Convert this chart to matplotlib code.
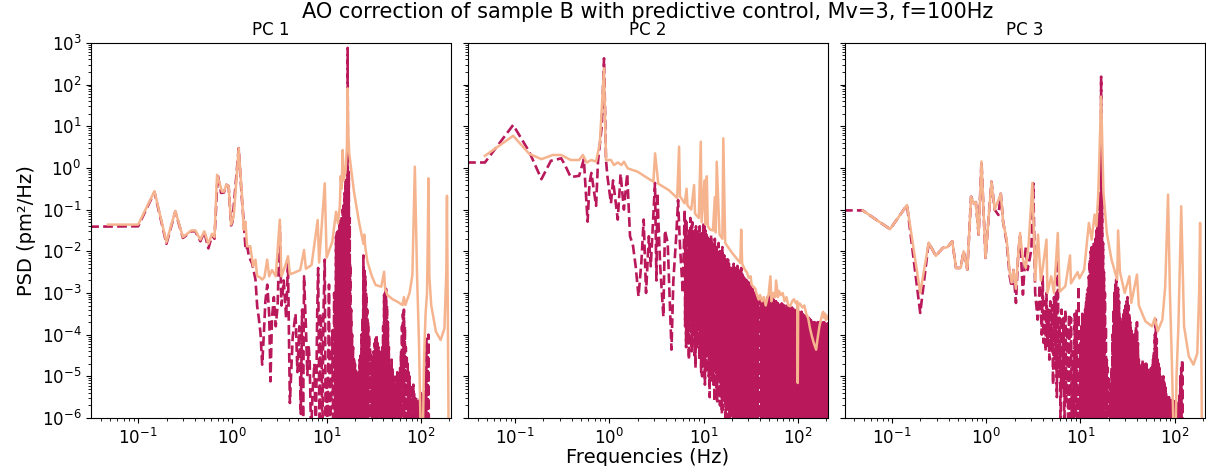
import numpy as np
import matplotlib.pyplot as plt

# values: (log10 frequency [Hz], log10 PSD [pm^2/Hz])
# dashed = open loop / reference, solid = predictive control

pc1_dashed = [
    (-1.52, -1.41), (-1.0, -1.40), (-0.827, -0.58), (-0.70, -1.82), (-0.606, -1.05), (-0.525, -1.68),
    (-0.436, -1.52), (-0.394, -1.52), (-0.34, -1.76), (-0.298, -1.54), (-0.255, -1.93), (-0.216, -1.62),
    (-0.19, -1.70), (-0.156, -0.165), (-0.12, -0.60), (-0.09, -0.59), (-0.064, -0.405), (-0.04, -0.44),
    (-0.014, -1.38), (0.0, -1.30), (0.067, 0.475), (0.10, -0.72), (0.12, -1.30), (0.14, -1.97),
    (0.16, -1.90), (0.174, -2.12), (0.21, -2.3), (0.245, -2.68), (0.263, -3.32), (0.28, -3.6),
    (0.298, -3.96), (0.316, -4.72), (0.33, -4.15), (0.35, -3.2), (0.37, -2.8), (0.39, -3.5),
    (0.404, -5.12), (0.42, -3.6), (0.44, -3.1), (0.46, -3.8), (0.48, -3.3), (0.503, -1.4),
    (0.52, -3.3), (0.545, -2.7), (0.57, -3.6), (0.59, -2.3), (0.61, -5.64), (0.64, -4.05),
    (0.67, -3.5), (0.69, -4.9), (0.71, -3.8), (0.725, -5.9), (0.74, -3.4), (0.75, -6.5),
    (0.76, -2.6), (0.78, -3.8), (0.795, -4.97), (0.81, -4.3), (0.82, -4.6), (0.835, -6.5),
    (0.85, -5.4), (0.87, -4.7), (0.885, -6.5), (0.90, -3.45), (0.91, -2.4), (0.925, -6.5),
    (0.935, -3.5), (0.945, -4.0), (0.955, -6.5), (0.965, -3.6), (0.98, -2.2), (0.99, -6.5),
    (1.0, -5.0), (1.01, -6.5), (1.025, -2.8), (1.035, -6.5), (1.05, -5.4), (1.06, -3.9),
    (1.07, -6.5), (1.08, -3.0), (1.09, -6.5), (1.10, -1.65), (1.105, -6.5), (1.11, -1.55),
    (1.115, -6.5), (1.12, -1.5), (1.125, -6.5), (1.13, -1.45), (1.135, -6.5), (1.14, -1.35),
    (1.145, -6.5), (1.15, -1.25), (1.155, -6.5), (1.16, -1.15), (1.165, -6.5), (1.17, -1.0),
    (1.175, -6.5), (1.18, -0.9), (1.185, -6.5), (1.19, -0.6), (1.195, -6.5), (1.20, -0.3),
    (1.205, -6.5), (1.212, -0.05), (1.217, -6.5), (1.223, 2.88), (1.23, -6.5), (1.235, -0.1),
    (1.24, -6.5), (1.245, -1.2), (1.248, -6.5),
    (1.25, -2.3), (1.255, -6.5), (1.26, -3.4), (1.265, -6.5), (1.27, -4.0), (1.275, -6.5),
    (1.28, -4.3), (1.285, -6.5), (1.29, -4.6), (1.295, -6.5), (1.30, -4.7), (1.305, -6.5),
    (1.31, -4.8), (1.315, -6.5), (1.32, -4.9), (1.325, -6.5), (1.33, -5.0), (1.335, -6.5),
    (1.34, -4.9), (1.345, -6.5), (1.35, -4.6), (1.355, -6.5), (1.36, -4.5), (1.365, -6.5),
    (1.37, -4.0), (1.375, -6.5), (1.38, -3.6), (1.385, -6.5), (1.39, -2.1), (1.395, -6.5),
    (1.40, -2.4), (1.405, -6.5), (1.41, -2.6), (1.415, -6.5), (1.42, -3.0), (1.425, -6.5),
    (1.43, -3.4), (1.435, -6.5), (1.44, -3.7), (1.445, -6.5), (1.45, -4.0), (1.455, -6.5),
    (1.46, -4.3), (1.465, -6.5), (1.47, -4.5), (1.475, -6.5), (1.48, -4.6), (1.485, -6.5),
    (1.49, -4.6), (1.495, -6.5), (1.50, -4.4), (1.505, -6.5), (1.51, -4.2), (1.515, -6.5),
    (1.52, -4.1), (1.525, -6.5), (1.53, -4.0), (1.535, -6.5), (1.54, -4.2), (1.545, -6.5),
    (1.55, -4.3), (1.555, -6.5), (1.56, -4.4), (1.565, -6.5), (1.57, -4.5), (1.575, -6.5),
    (1.58, -4.4), (1.585, -6.5), (1.59, -4.3), (1.595, -6.5), (1.60, -3.8), (1.605, -6.5),
    (1.61, -3.05), (1.615, -6.5), (1.62, -3.0), (1.625, -6.5), (1.63, -2.9), (1.635, -6.5),
    (1.64, -3.3), (1.645, -6.5), (1.65, -3.7), (1.655, -6.5), (1.66, -4.3), (1.665, -6.5),
    (1.67, -4.9), (1.675, -6.5), (1.68, -4.7), (1.685, -6.5), (1.69, -4.6), (1.695, -6.5),
    (1.70, -4.8), (1.705, -6.5), (1.71, -5.0), (1.715, -6.5), (1.72, -5.1), (1.725, -6.5),
    (1.73, -5.2), (1.735, -6.5), (1.74, -5.0), (1.745, -6.5), (1.75, -4.9), (1.755, -6.5),
    (1.76, -5.0), (1.765, -6.5), (1.77, -5.1), (1.775, -6.5), (1.78, -4.8), (1.785, -6.5),
    (1.79, -4.4), (1.795, -6.5), (1.80, -3.8), (1.805, -6.5), (1.81, -3.5), (1.815, -6.5),
    (1.82, -3.4), (1.825, -6.5), (1.83, -3.8), (1.835, -6.5), (1.84, -4.3), (1.845, -6.5),
    (1.85, -4.5), (1.855, -6.5), (1.86, -4.7), (1.865, -6.5), (1.87, -4.9), (1.875, -6.5),
    (1.88, -5.0), (1.885, -6.5), (1.89, -5.2), (1.895, -6.5), (1.90, -5.3), (1.905, -6.5),
    (1.91, -5.2), (1.915, -6.5), (1.92, -5.2), (1.925, -6.5), (1.93, -5.4), (1.935, -6.5),
    (1.94, -5.5), (1.945, -6.5), (1.95, -5.5), (1.955, -6.5), (1.96, -5.6), (1.965, -6.5),
    (1.97, -5.7), (1.975, -6.5), (1.98, -5.7), (1.985, -6.5), (1.99, -5.5), (1.995, -6.5),
    (2.00, -5.4), (2.005, -6.5), (2.01, -5.5), (2.015, -6.5), (2.02, -5.6), (2.025, -6.5),
    (2.03, -5.4), (2.035, -6.5), (2.04, -5.3), (2.045, -6.5), (2.05, -4.8), (2.055, -6.5),
    (2.06, -4.1), (2.065, -6.5), (2.07, -4.3), (2.075, -6.5), (2.08, -4.0), (2.085, -6.5),
    (2.09, -6.5),
]

pc1_solid = [
    (-1.32, -1.36), (-1.0, -1.36), (-0.827, -0.56), (-0.70, -1.78), (-0.606, -1.03), (-0.525, -1.66),
    (-0.436, -1.50), (-0.394, -1.50), (-0.34, -1.72), (-0.298, -1.52), (-0.255, -1.82), (-0.216, -1.58),
    (-0.19, -1.66), (-0.163, -0.165), (-0.11, -0.57), (-0.09, -0.57), (-0.064, -0.40), (-0.04, -0.44),
    (-0.014, -1.36), (0.014, -1.16), (0.067, 0.475), (0.103, -0.72), (0.12, -1.48), (0.138, -1.29),
    (0.156, -1.88), (0.19, -1.88), (0.22, -2.36), (0.245, -2.2), (0.263, -2.6), (0.29, -2.62),
    (0.316, -2.68), (0.34, -2.62), (0.369, -2.20), (0.39, -2.6), (0.42, -2.45), (0.46, -2.6),
    (0.503, -1.24), (0.52, -2.6), (0.56, -2.35), (0.59, -2.12), (0.61, -2.55), (0.65, -2.52),
    (0.69, -2.48), (0.72, -2.45), (0.76, -1.97), (0.78, -2.42), (0.84, -2.33), (0.905, -1.25),
    (0.92, -2.27), (0.98, -0.37), (1.0, -2.15), (1.06, -1.77), (1.10, -1.05), (1.12, -1.33),
    (1.14, -0.9), (1.149, -0.2), (1.16, -0.5), (1.17, 0.43), (1.18, -0.3), (1.20, -0.1),
    (1.215, 0.5), (1.223, 1.91), (1.23, 0.8), (1.24, 0.35), (1.255, 0.07), (1.29, -0.57),
    (1.343, -1.29), (1.39, -1.82), (1.40, -1.6), (1.41, -1.9), (1.433, -2.25), (1.48, -2.6),
    (1.52, -2.81), (1.58, -2.85), (1.61, -2.49), (1.62, -2.9), (1.645, -3.05), (1.70, -3.15),
    (1.75, -3.21), (1.805, -3.29), (1.82, -3.1), (1.835, -3.29), (1.88, -3.0), (1.91, -2.57),
    (1.936, 0.03), (1.96, -2.6), (1.98, -4.2), (1.99, -5.4), (2.0, -6.5), (2.02, -6.5),
    (2.035, -4.5), (2.05, -3.5), (2.065, -3.0), (2.075, -1.5), (2.08, -0.25), (2.09, -2.6),
    (2.11, -3.3), (2.16, -3.93), (2.21, -4.13), (2.25, -3.85), (2.27, -2.5), (2.277, -0.67),
    (2.285, -3.2), (2.295, -6.5), (2.32, -6.5),
]

pc2_dashed = [
    (-1.52, 0.13), (-1.32, 0.13), (-1.02, 1.03), (-0.85, 0.39), (-0.72, -0.27), (-0.62, 0.17),
    (-0.51, 0.23), (-0.47, 0.07), (-0.41, -0.22), (-0.32, -0.19), (-0.27, 0.21), (-0.23, -1.29),
    (-0.21, -0.37), (-0.19, -0.12), (-0.14, -0.91), (-0.12, 0.15), (-0.08, 1.0), (-0.056, 2.63),
    (-0.035, 0.19), (-0.02, -0.2), (0.018, -0.85), (0.04, -0.3), (0.09, -1.24), (0.12, -0.14),
    (0.155, -1.0), (0.19, -0.14), (0.22, -1.64), (0.25, -1.84), (0.28, -2.36), (0.31, -3.08),
    (0.34, -2.28), (0.365, -1.24), (0.39, -3.0), (0.42, -1.64), (0.44, -2.36), (0.485, -0.36),
    (0.50, -2.7), (0.51, -0.6), (0.54, -2.35), (0.574, -3.57), (0.59, -1.5), (0.62, -1.8),
    (0.66, -4.36), (0.68, -2.7), (0.71, -1.65), (0.73, -0.77), (0.75, -1.85), (0.78, -3.0),
    (0.80, -1.0), (0.805, -3.8), (0.81, -1.2), (0.815, -4.3), (0.82, -1.3), (0.825, -3.6),
    (0.83, -1.6), (0.835, -4.2), (0.84, -2.0), (0.845, -4.6), (0.85, -1.5), (0.855, -3.9),
    (0.86, -1.2), (0.865, -3.6), (0.87, -1.4), (0.875, -4.4), (0.88, -1.3), (0.885, -4.0),
    (0.89, -1.5), (0.895, -3.7), (0.90, -1.6), (0.905, -4.5), (0.91, -1.5), (0.915, -4.8),
    (0.92, -1.4), (0.925, -4.1), (0.93, -1.6), (0.935, -4.3), (0.94, -1.5), (0.945, -3.8),
    (0.95, -1.7), (0.955, -4.6), (0.96, -1.4), (0.965, -4.4), (0.97, -1.5), (0.975, -4.9),
    (0.98, -1.7), (0.985, -5.0), (0.99, -1.6), (0.995, -4.2), (1.00, -1.3), (1.005, -4.6),
    (1.01, -1.4), (1.015, -5.2), (1.02, -1.5), (1.025, -4.9), (1.03, -1.6), (1.035, -4.5),
    (1.04, -1.6), (1.045, -4.4), (1.05, -1.7), (1.055, -5.0), (1.06, -1.7), (1.065, -5.5),
    (1.07, -1.8), (1.075, -4.8), (1.08, -1.6), (1.085, -5.1), (1.09, -1.8), (1.095, -4.8),
    (1.10, -1.8), (1.105, -5.2), (1.11, -1.9), (1.115, -5.6), (1.12, -1.7), (1.125, -4.7),
    (1.13, -1.9), (1.135, -5.3), (1.14, -1.9), (1.145, -5.6), (1.15, -2.0), (1.155, -5.0),
    (1.16, -1.8), (1.165, -5.1), (1.17, -2.0), (1.175, -5.7), (1.18, -2.0), (1.185, -5.4),
    (1.19, -2.1), (1.195, -5.9), (1.20, -1.9), (1.205, -5.8), (1.21, -2.1), (1.215, -5.5),
    (1.22, -2.1), (1.225, -5.3), (1.23, -2.2), (1.235, -6.1), (1.24, -2.3), (1.245, -6.0),
    (1.25, -2.2), (1.255, -5.8), (1.26, -2.2), (1.265, -5.7), (1.27, -2.3), (1.275, -6.3),
    (1.28, -2.4), (1.285, -6.5), (1.29, -2.4), (1.295, -5.9), (1.30, -2.45), (1.305, -6.5),
    (1.31, -2.4), (1.315, -6.2), (1.32, -2.3), (1.325, -6.5), (1.33, -2.45), (1.335, -6.5),
    (1.34, -2.4), (1.345, -6.2), (1.35, -2.5), (1.355, -6.5), (1.36, -2.35), (1.365, -6.5),
    (1.37, -2.45), (1.375, -6.5), (1.38, -2.5), (1.385, -6.5), (1.39, -2.55), (1.395, -6.5),
    (1.40, -2.4), (1.405, -6.5), (1.41, -2.55), (1.415, -6.5), (1.42, -2.6), (1.425, -6.5),
    (1.43, -2.65), (1.435, -6.5), (1.44, -2.6), (1.445, -6.5), (1.45, -2.7), (1.455, -6.5),
    (1.46, -2.7), (1.465, -6.5), (1.47, -2.75), (1.475, -6.5), (1.48, -2.75), (1.485, -6.5),
    (1.49, -2.8), (1.495, -6.5), (1.50, -2.85), (1.505, -6.5), (1.51, -2.9), (1.515, -6.5),
    (1.52, -2.9), (1.525, -6.5), (1.53, -2.95), (1.535, -6.5), (1.54, -2.95), (1.545, -6.5),
    (1.55, -3.0), (1.555, -6.5), (1.56, -3.05), (1.565, -6.5), (1.57, -3.1), (1.575, -6.5),
    (1.58, -3.1), (1.585, -6.5), (1.59, -3.15), (1.595, -6.5), (1.60, -3.15), (1.605, -6.5),
    (1.61, -3.2), (1.615, -6.5), (1.62, -3.2), (1.625, -6.5), (1.63, -3.15), (1.635, -6.5),
    (1.64, -3.15), (1.645, -6.5), (1.65, -3.2), (1.655, -6.5), (1.66, -3.2), (1.665, -6.5),
    (1.67, -3.15), (1.675, -6.5), (1.68, -3.1), (1.685, -6.5), (1.69, -3.1), (1.695, -6.5),
    (1.70, -3.1), (1.705, -6.5), (1.71, -3.05), (1.715, -6.5), (1.72, -3.05), (1.725, -6.5),
    (1.73, -3.1), (1.735, -6.5), (1.74, -3.15), (1.745, -6.5), (1.75, -3.2), (1.755, -6.5),
    (1.76, -3.2), (1.765, -6.5), (1.77, -3.2), (1.775, -6.5), (1.78, -3.2), (1.785, -6.5),
    (1.79, -3.25), (1.795, -6.5), (1.80, -3.25), (1.805, -6.5), (1.81, -3.3), (1.815, -6.5),
    (1.82, -3.3), (1.825, -6.5), (1.83, -3.25), (1.835, -6.5), (1.84, -3.25), (1.845, -6.5),
    (1.85, -3.3), (1.855, -6.5), (1.86, -3.3), (1.865, -6.5), (1.87, -3.35), (1.875, -6.5),
    (1.88, -3.35), (1.885, -6.5), (1.89, -3.3), (1.895, -6.5), (1.90, -3.3), (1.905, -6.5),
    (1.91, -3.35), (1.915, -6.5), (1.92, -3.4), (1.925, -6.5), (1.93, -3.4), (1.935, -6.5),
    (1.94, -3.35), (1.945, -6.5), (1.95, -3.4), (1.955, -6.5), (1.96, -3.4), (1.965, -6.5),
    (1.97, -3.45), (1.975, -6.5), (1.98, -3.45), (1.985, -6.5), (1.99, -3.4), (1.995, -6.5),
    (2.00, -3.4), (2.005, -6.5), (2.01, -3.45), (2.015, -6.5), (2.02, -3.5), (2.025, -6.5),
    (2.03, -3.5), (2.035, -6.5), (2.04, -3.45), (2.045, -6.5), (2.05, -3.5), (2.055, -6.5),
    (2.06, -3.5), (2.065, -6.5), (2.07, -3.55), (2.075, -6.5), (2.08, -3.55), (2.085, -6.5),
    (2.09, -3.6), (2.095, -6.5), (2.10, -3.6), (2.105, -6.5), (2.11, -3.6), (2.115, -6.5),
    (2.12, -3.6), (2.125, -6.5), (2.13, -3.65), (2.135, -6.5), (2.14, -3.65), (2.145, -6.5),
    (2.15, -3.7), (2.155, -6.5), (2.16, -3.7), (2.165, -6.5), (2.17, -3.7), (2.175, -6.5),
    (2.18, -3.7), (2.185, -6.5), (2.19, -3.75), (2.195, -6.5), (2.20, -3.75), (2.205, -6.5),
    (2.21, -3.7), (2.215, -6.5), (2.22, -3.7), (2.225, -6.5), (2.23, -3.7), (2.235, -6.5),
    (2.24, -3.7), (2.245, -6.5), (2.25, -3.75), (2.255, -6.5), (2.26, -3.75), (2.265, -6.5),
    (2.27, -3.7), (2.275, -6.5), (2.28, -3.7), (2.285, -6.5), (2.29, -3.75), (2.295, -6.5),
    (2.30, -3.75), (2.305, -6.5), (2.31, -3.7), (2.315, -6.5), (2.32, -3.7),
]

pc2_solid = [
    (-1.32, 0.29), (-1.02, 0.77), (-0.85, 0.34), (-0.72, 0.21), (-0.60, 0.31), (-0.51, 0.31),
    (-0.41, 0.19), (-0.32, 0.19), (-0.28, 0.31), (-0.24, 0.13), (-0.19, 0.19), (-0.14, 0.15),
    (-0.10, 0.6), (-0.056, 2.39), (-0.035, 0.19), (0.018, 0.19), (0.05, 0.07), (0.09, 0.13),
    (0.13, 0.07), (0.155, 0.15), (0.195, -0.01), (0.30, -0.09), (0.41, -0.25), (0.468, -0.33),
    (0.486, 0.35), (0.52, -0.38), (0.55, -0.42), (0.63, -0.53), (0.72, -0.72), (0.741, 0.51),
    (0.75, -0.68), (0.80, -0.85), (0.82, -0.5), (0.83, -0.9), (0.87, -1.0), (0.90, -0.41),
    (0.91, -1.1), (0.95, -1.2), (0.971, 0.63), (0.98, -1.3), (1.01, -0.3), (1.02, -1.35),
    (1.035, -0.2), (1.045, -1.4), (1.07, -1.48), (1.10, -1.5), (1.12, -0.7), (1.13, -1.55),
    (1.14, 0.15), (1.17, -1.6), (1.20, -1.7), (1.21, 0.71), (1.23, -1.8), (1.30, -2.03),
    (1.39, -2.28), (1.40, -1.48), (1.41, -2.3), (1.44, -2.45), (1.46, -2.5), (1.48, -2.64),
    (1.50, -2.6), (1.51, -2.8), (1.53, -2.85), (1.55, -2.9), (1.56, -3.0), (1.585, -3.16),
    (1.60, -3.05), (1.62, -3.2), (1.64, -3.1), (1.66, -3.3), (1.68, -3.1), (1.69, -3.05),
    (1.71, -2.6), (1.72, -3.2), (1.74, -3.0), (1.76, -3.1), (1.77, -2.7), (1.79, -3.1),
    (1.80, -2.95), (1.82, -3.05), (1.84, -3.0), (1.86, -3.2), (1.88, -3.1), (1.90, -3.3),
    (1.92, -3.32), (1.94, -3.2), (1.96, -3.15), (1.98, -3.25), (1.995, -3.2), (2.0, -5.16),
    (2.005, -3.3), (2.02, -3.25), (2.05, -3.35), (2.07, -3.3), (2.09, -3.5), (2.11, -3.6),
    (2.13, -3.85), (2.15, -4.04), (2.17, -4.2), (2.195, -4.36), (2.21, -4.1), (2.23, -3.8),
    (2.24, -3.7), (2.26, -3.5), (2.27, -3.45), (2.28, -3.6), (2.29, -3.5), (2.30, -3.65),
    (2.31, -3.55), (2.32, -3.6),
]

pc3_dashed = [
    (-1.52, -1.02), (-1.31, -1.02), (-1.02, -1.47), (-0.84, -0.89), (-0.70, -3.48), (-0.61, -1.79),
    (-0.535, -2.11), (-0.46, -1.92), (-0.41, -1.9), (-0.36, -1.76), (-0.32, -2.4), (-0.27, -2.4),
    (-0.24, -2.0), (-0.20, -2.44), (-0.16, -0.69), (-0.13, -0.86), (-0.11, -0.82), (-0.08, -1.6),
    (-0.05, 0.155), (-0.007, -2.16), (0.056, -0.33), (0.09, -1.0), (0.13, -1.13), (0.155, -0.62),
    (0.18, -1.3), (0.216, -1.76), (0.25, -2.6), (0.27, -2.85), (0.29, -2.45), (0.316, -3.24),
    (0.34, -2.05), (0.36, -1.65), (0.39, -3.04), (0.42, -1.9), (0.44, -2.45), (0.48, -1.95),
    (0.50, -0.37), (0.52, -3.0), (0.546, -3.64), (0.57, -2.8), (0.59, -4.0), (0.60, -2.6),
    (0.61, -4.2), (0.62, -3.2), (0.63, -4.4), (0.64, -3.0), (0.65, -4.3), (0.66, -3.4),
    (0.67, -4.6), (0.68, -3.2), (0.69, -4.4), (0.70, -3.3), (0.71, -5.2), (0.72, -3.1),
    (0.73, -4.8), (0.74, -3.0), (0.75, -5.5), (0.76, -2.2), (0.77, -5.0), (0.78, -3.6),
    (0.79, -6.5), (0.80, -3.4), (0.81, -5.3), (0.82, -3.6), (0.83, -6.5), (0.84, -3.4),
    (0.85, -5.6), (0.86, -3.8), (0.87, -6.5), (0.88, -3.5), (0.89, -6.5), (0.90, -3.6),
    (0.91, -6.5), (0.92, -4.4), (0.93, -6.5), (0.94, -3.5), (0.95, -6.5), (0.96, -3.4),
    (0.97, -6.5), (0.98, -2.84), (0.99, -6.5),
    (1.00, -4.2), (1.005, -6.5), (1.01, -3.8), (1.015, -6.5), (1.02, -3.5), (1.025, -6.5),
    (1.03, -3.6), (1.035, -6.5), (1.04, -3.7), (1.045, -6.5), (1.05, -3.4), (1.055, -6.5),
    (1.06, -3.2), (1.065, -6.5), (1.07, -3.0), (1.075, -6.5), (1.08, -2.9), (1.085, -6.5),
    (1.09, -2.6), (1.095, -6.5), (1.10, -2.2), (1.105, -6.5), (1.11, -2.0), (1.115, -6.5),
    (1.12, -1.9), (1.125, -6.5), (1.13, -1.85), (1.135, -6.5), (1.14, -1.8), (1.145, -6.5),
    (1.15, -1.75), (1.155, -6.5), (1.16, -1.7), (1.165, -6.5), (1.17, -1.5), (1.175, -6.5),
    (1.18, -1.3), (1.185, -6.5), (1.19, -1.1), (1.195, -6.5), (1.20, -0.9), (1.205, -6.5),
    (1.21, -0.6), (1.215, -6.5), (1.22, 2.19), (1.225, -6.5), (1.23, -0.6), (1.235, -6.5),
    (1.24, -1.8), (1.245, -6.5), (1.25, -2.5), (1.255, -6.5), (1.26, -3.0), (1.265, -6.5),
    (1.27, -3.8), (1.275, -6.5), (1.28, -4.6), (1.285, -6.5), (1.29, -4.8), (1.295, -6.5),
    (1.30, -5.0), (1.305, -6.5), (1.31, -5.2), (1.315, -6.5), (1.32, -5.4), (1.325, -6.5),
    (1.33, -4.8), (1.335, -6.5), (1.34, -4.0), (1.345, -6.5), (1.35, -3.4), (1.355, -6.5),
    (1.36, -3.0), (1.365, -6.5), (1.37, -2.8), (1.375, -6.5), (1.38, -2.68), (1.385, -6.5),
    (1.39, -2.8), (1.395, -6.5), (1.40, -2.9), (1.405, -6.5), (1.41, -3.2), (1.415, -6.5),
    (1.42, -3.6), (1.425, -6.5), (1.43, -3.7), (1.435, -6.5), (1.44, -3.8), (1.445, -6.5),
    (1.45, -3.6), (1.455, -6.5), (1.46, -3.5), (1.465, -6.5), (1.47, -3.4), (1.475, -6.5),
    (1.48, -3.3), (1.485, -6.5), (1.49, -3.2), (1.495, -6.5), (1.50, -3.1), (1.505, -6.5),
    (1.51, -3.3), (1.515, -6.5), (1.52, -3.5), (1.525, -6.5), (1.53, -3.7), (1.535, -6.5),
    (1.54, -3.9), (1.545, -6.5), (1.55, -4.0), (1.555, -6.5), (1.56, -4.1), (1.565, -6.5),
    (1.57, -4.0), (1.575, -6.5), (1.58, -4.0), (1.585, -6.5), (1.59, -3.8), (1.595, -6.5),
    (1.60, -3.7), (1.605, -6.5), (1.61, -4.2), (1.615, -6.5), (1.62, -4.6), (1.625, -6.5),
    (1.63, -4.8), (1.635, -6.5), (1.64, -4.9), (1.645, -6.5), (1.65, -4.7), (1.655, -6.5),
    (1.66, -4.6), (1.665, -6.5), (1.67, -4.7), (1.675, -6.5), (1.68, -4.8), (1.685, -6.5),
    (1.69, -4.7), (1.695, -6.5), (1.70, -4.7), (1.705, -6.5), (1.71, -4.8), (1.715, -6.5),
    (1.72, -4.8), (1.725, -6.5), (1.73, -4.9), (1.735, -6.5), (1.74, -4.9), (1.745, -6.5),
    (1.75, -4.8), (1.755, -6.5), (1.76, -4.8), (1.765, -6.5), (1.77, -4.6), (1.775, -6.5),
    (1.78, -4.4), (1.785, -6.5), (1.79, -4.0), (1.795, -6.5), (1.80, -3.64), (1.805, -6.5),
    (1.81, -4.1), (1.815, -6.5), (1.82, -4.6), (1.825, -6.5), (1.83, -4.7), (1.835, -6.5),
    (1.84, -4.8), (1.845, -6.5), (1.85, -5.0), (1.855, -6.5), (1.86, -5.2), (1.865, -6.5),
    (1.87, -5.1), (1.875, -6.5), (1.88, -5.0), (1.885, -6.5), (1.89, -5.1), (1.895, -6.5),
    (1.90, -5.2), (1.905, -6.5), (1.91, -5.4), (1.915, -6.5), (1.92, -5.5), (1.925, -6.5),
    (1.93, -5.5), (1.935, -6.5), (1.94, -5.5), (1.945, -6.5), (1.95, -5.6), (1.955, -6.5),
    (1.96, -5.6), (1.965, -6.5), (1.97, -5.5), (1.975, -6.5), (1.98, -5.5), (1.985, -6.5),
    (1.99, -5.6), (1.995, -6.5), (2.00, -5.7), (2.005, -6.5), (2.01, -5.6), (2.015, -6.5),
    (2.02, -5.6), (2.025, -6.5), (2.03, -5.7), (2.035, -6.5), (2.04, -5.8), (2.045, -6.5),
    (2.05, -5.4), (2.055, -6.5), (2.06, -5.0), (2.065, -6.5), (2.07, -4.8), (2.075, -6.5),
    (2.08, -4.6), (2.085, -6.5), (2.09, -6.5),
]

pc3_solid = [
    (-1.31, -1.02), (-1.02, -1.47), (-0.84, -0.89), (-0.70, -3.0), (-0.61, -1.79), (-0.535, -2.11),
    (-0.46, -1.92), (-0.41, -1.9), (-0.36, -1.76), (-0.32, -2.4), (-0.27, -2.4), (-0.24, -2.0),
    (-0.20, -2.44), (-0.16, -0.69), (-0.13, -0.86), (-0.11, -0.82), (-0.08, -1.6), (-0.05, 0.155),
    (-0.007, -2.16), (0.056, -0.33), (0.09, -1.0), (0.13, -0.77), (0.155, -0.62), (0.18, -1.3),
    (0.216, -1.7), (0.25, -2.5), (0.27, -2.75), (0.29, -2.45), (0.316, -2.9), (0.34, -2.05),
    (0.36, -1.56), (0.39, -2.2), (0.42, -2.4), (0.45, -1.85), (0.49, -0.36), (0.51, -1.85),
    (0.52, -2.7), (0.55, -1.6), (0.58, -2.7), (0.60, -2.4), (0.64, -1.72), (0.65, -3.0),
    (0.69, -2.6), (0.72, -3.0), (0.76, -1.56), (0.78, -2.97), (0.84, -2.84), (0.89, -2.1),
    (0.90, -2.77), (0.97, -2.5), (0.99, -2.65), (1.04, -2.44), (1.09, -1.32), (1.12, -1.72),
    (1.15, -1.12), (1.17, -1.4), (1.19, -0.6), (1.22, 1.71), (1.245, -0.6), (1.28, -1.56),
    (1.33, -2.2), (1.39, -2.68), (1.40, -1.5), (1.42, -2.5), (1.47, -3.0), (1.52, -2.6),
    (1.54, -3.24), (1.60, -2.56), (1.62, -3.3), (1.69, -3.68), (1.76, -3.8), (1.79, -3.6),
    (1.82, -3.92), (1.87, -3.64), (1.90, -2.84), (1.93, -0.64), (1.95, -3.0), (1.97, -4.6),
    (1.99, -6.5), (2.01, -6.5), (2.02, -5.0), (2.04, -3.8), (2.07, -0.92), (2.10, -3.8),
    (2.15, -4.52), (2.20, -4.72), (2.24, -4.45), (2.26, -3.0), (2.27, -1.32), (2.28, -3.5),
    (2.29, -6.5),
]

titles = ['PC 1', 'PC 2', 'PC 3']
dashed_series = [pc1_dashed, pc2_dashed, pc3_dashed]
solid_series = [pc1_solid, pc2_solid, pc3_solid]

c_dash = '#b9185a'
c_solid = '#f5b48e'

fig, axes = plt.subplots(1, 3, sharey=True, figsize=(12.06, 4.66), dpi=100)
fig.subplots_adjust(left=0.0755, right=0.999, bottom=0.103, top=0.908, wspace=0.047)

for ax, title, dsh, sol in zip(axes, titles, dashed_series, solid_series):
    d = np.array(dsh).T
    s = np.array(sol).T
    ax.plot(10 ** d[0], 10 ** d[1], '--', color=c_dash, lw=1.9)
    ax.plot(10 ** s[0], 10 ** s[1], '-', color=c_solid, lw=1.8)
    ax.set_xscale('log')
    ax.set_yscale('log')
    ax.set_xlim(10 ** -1.5, 10 ** 2.32)
    ax.set_ylim(1e-6, 1e3)
    ax.set_title(title, fontsize=12)
    ax.tick_params(labelsize=12)

axes[0].set_ylabel('PSD (pm²/Hz)', fontsize=14)
axes[1].set_xlabel('Frequencies (Hz)', fontsize=14, labelpad=0)
fig.suptitle('AO correction of sample B with predictive control, Mv=3, f=100Hz',
             fontsize=15, x=0.537, y=0.995)

plt.savefig('out.png')
